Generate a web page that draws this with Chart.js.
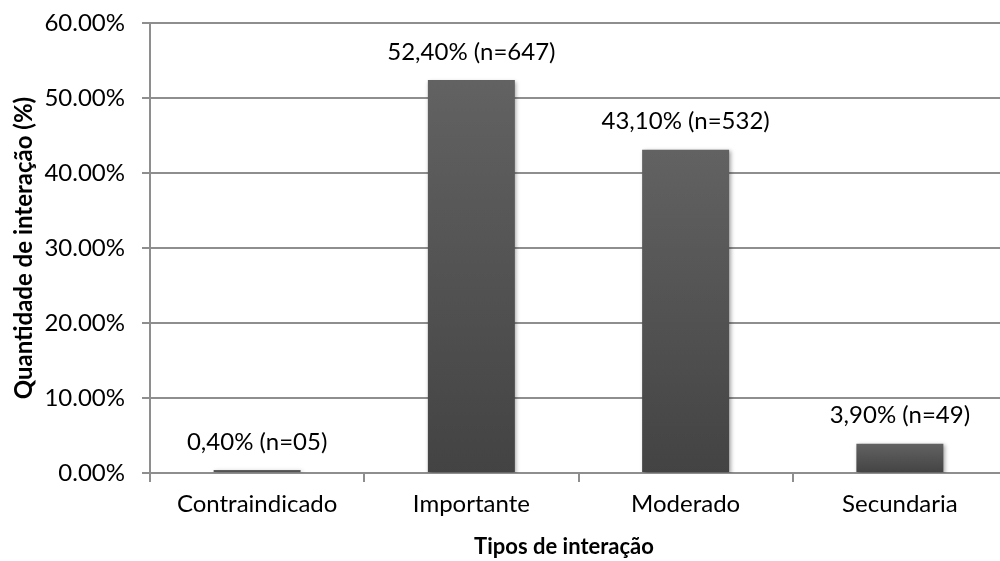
<!DOCTYPE html>
<html>
<head>
<meta charset="utf-8">
<script src="https://cdn.jsdelivr.net/npm/chart.js@4/dist/chart.umd.min.js"></script>
<style>
  html, body { margin: 0; padding: 0; background: #fff; overflow: hidden; }
  #wrap { width: 1007px; height: 561px; position: relative; }
</style>
</head>
<body>
<div id="wrap"><canvas id="c"></canvas></div>
<script>
const categories = ["Contraindicado", "Importante", "Moderado", "Secundaria"];
const values = [0.4, 52.4, 43.1, 3.9];
const valueLabels = ["0,40% (n=05)", "52,40% (n=647)", "43,10% (n=532)", "3,90% (n=49)"];
const yTickValues = [0, 10, 20, 30, 40, 50, 60];
const xTitle = "Tipos de interação";
const yTitle = "Quantidade de interação (%)";

const FONT = "Lato, 'Liberation Sans', sans-serif";
const GRID = "#8e8e8e";

function barGradient(context) {
  const chart = context.chart;
  const area = chart.chartArea;
  if (!area) return "#555";
  const y = chart.scales.y;
  const v = context.raw;
  const top = y.getPixelForValue(v);
  const base = y.getPixelForValue(0);
  if (!isFinite(top) || !isFinite(base) || Math.abs(base - top) < 1) return "#505050";
  const g = chart.ctx.createLinearGradient(0, top, 0, base);
  g.addColorStop(0, "#626262");
  g.addColorStop(1, "#434343");
  return g;
}

const labelPlugin = {
  id: "labelPlugin",
  beforeDatasetsDraw(chart) {
    const ctx = chart.ctx;
    ctx.save();
    ctx.shadowColor = "rgba(0,0,0,0.35)";
    ctx.shadowBlur = 4;
    ctx.shadowOffsetX = 1.5;
    ctx.shadowOffsetY = 1.5;
  },
  afterDatasetsDraw(chart) {
    const ctx = chart.ctx;
    ctx.restore();
    const meta = chart.getDatasetMeta(0);
    ctx.save();
    ctx.font = "24px " + FONT;
    ctx.fillStyle = "#000";
    ctx.textAlign = "center";
    ctx.textBaseline = "middle";
    meta.data.forEach((bar, i) => {
      ctx.fillText(valueLabels[i], bar.x, bar.y - 28);
    });
    ctx.restore();
  },
  afterDraw(chart) {
    const ctx = chart.ctx;
    ctx.save();
    ctx.font = "bold 22px " + FONT;
    ctx.fillStyle = "#000";
    ctx.textAlign = "center";
    ctx.textBaseline = "middle";
    ctx.fillText(xTitle, 564, 547);
    ctx.restore();
  }
};

new Chart(document.getElementById("c"), {
  type: "bar",
  data: {
    labels: categories,
    datasets: [{
      data: values,
      backgroundColor: barGradient,
      borderWidth: 0,
      categoryPercentage: 1.0,
      barPercentage: 0.406
    }]
  },
  plugins: [labelPlugin],
  options: {
    responsive: true,
    maintainAspectRatio: false,
    animation: false,
    devicePixelRatio: 1,
    layout: { autoPadding: false, padding: { top: 23, right: 0, bottom: 0, left: 0 } },
    plugins: {
      legend: { display: false },
      tooltip: { enabled: false }
    },
    scales: {
      x: {
        grid: {
          display: true,
          drawOnChartArea: false,
          drawTicks: true,
          tickLength: 9,
          color: GRID,
          lineWidth: 2,
          offset: true
        },
        border: { display: true, color: GRID, width: 2 },
        ticks: {
          color: "#000",
          font: { family: FONT, size: 24 },
          padding: 8,
          maxRotation: 0,
          autoSkip: false
        },
        title: { display: false },
        afterFit(scale) {
          scale.height = 88;
          scale.paddingLeft = 0; scale.paddingRight = 0;
          scale.paddingTop = 0; scale.paddingBottom = 0;
        }
      },
      y: {
        min: 0,
        max: 60,
        afterBuildTicks(scale) { scale.ticks = yTickValues.map(v => ({ value: v })); },
        grid: {
          color: GRID,
          lineWidth: 2,
          drawTicks: true,
          tickLength: 8
        },
        border: { display: true, color: GRID, width: 2 },
        ticks: {
          color: "#000",
          font: { family: FONT, size: 24 },
          padding: 17,
          callback: v => v.toFixed(2) + "%"
        },
        title: {
          display: true,
          text: yTitle,
          color: "#000",
          font: { family: FONT, size: 24, weight: "bold" },
          padding: { top: 10, bottom: 0 }
        },
        afterFit(scale) {
          scale.width = 150;
          scale.paddingTop = 0; scale.paddingBottom = 0;
          scale.paddingLeft = 0; scale.paddingRight = 0;
        }
      }
    }
  }
});
</script>
</body>
</html>
